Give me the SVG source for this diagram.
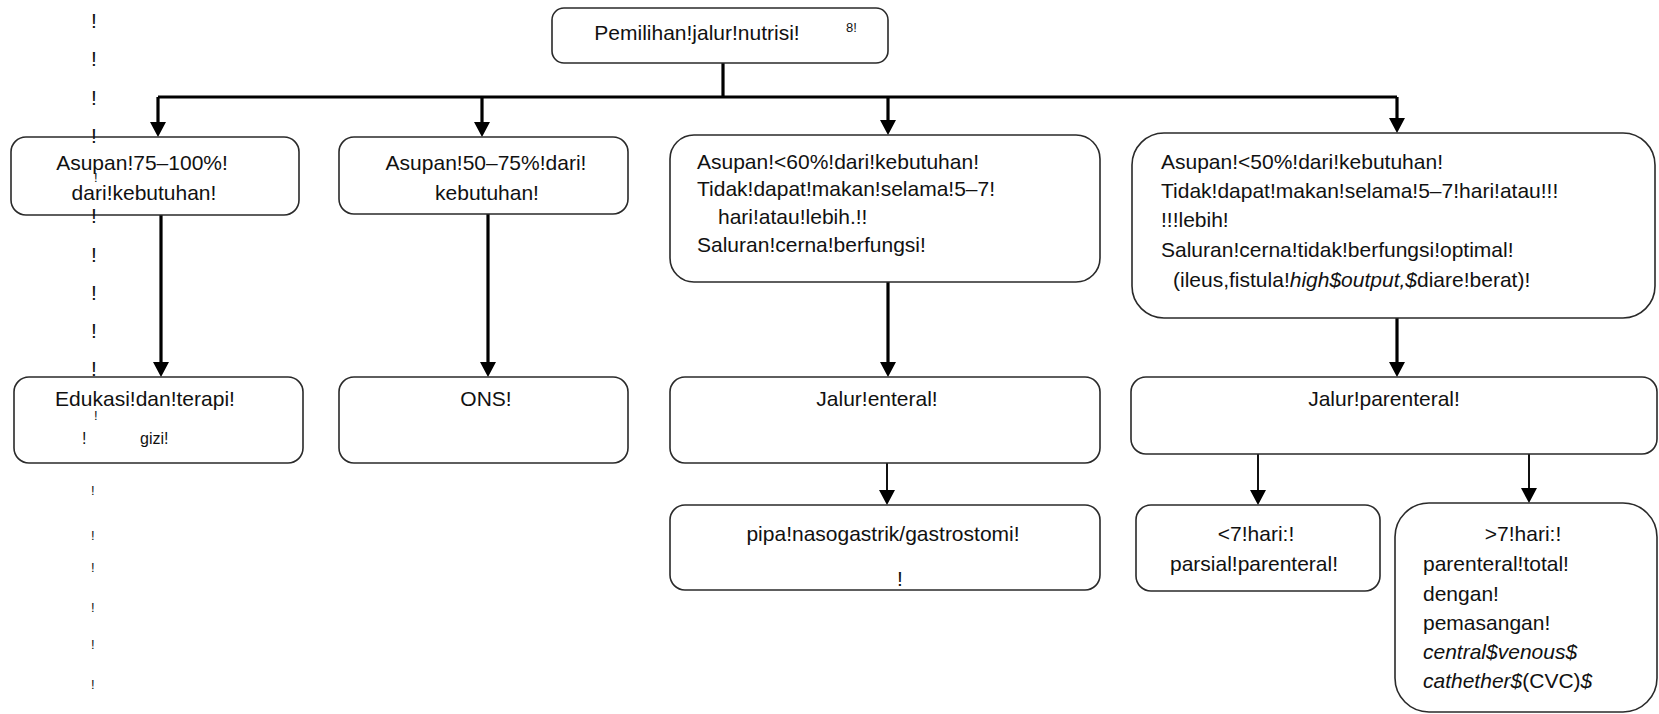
<svg xmlns="http://www.w3.org/2000/svg" width="1659" height="714" viewBox="0 0 1659 714">
<style>
.box{fill:#fff;stroke:#2a2a2a;stroke-width:1.6}
.t{font-family:"Liberation Sans",Arial,sans-serif;font-size:21px;fill:#111}
.c{text-anchor:middle}
.i{font-style:italic}
.s{font-family:"Liberation Sans",Arial,sans-serif;font-size:16px;fill:#111}
.xs{font-family:"Liberation Sans",Arial,sans-serif;font-size:13px;fill:#111}
.thick{fill:none;stroke:#000;stroke-width:3.2}
.thin{fill:none;stroke:#111;stroke-width:2}
</style>
<defs>
<marker id="ah" viewBox="0 0 15 16" refX="11" refY="8" markerWidth="15" markerHeight="16" markerUnits="userSpaceOnUse" orient="auto">
<path d="M0,0 L15,8 L0,16 z" fill="#000"/>
</marker>
</defs>
<rect width="1659" height="714" fill="#fff"/>

<g id="connectors">
<path class="thick" d="M723,63 V97"/>
<path class="thick" d="M158,97 H1397"/>
<path class="thick" d="M158,97 V133" marker-end="url(#ah)"/>
<path class="thick" d="M482,97 V133" marker-end="url(#ah)"/>
<path class="thick" d="M888,97 V131" marker-end="url(#ah)"/>
<path class="thick" d="M1397,97 V129" marker-end="url(#ah)"/>
<path class="thick" d="M161,215 V373" marker-end="url(#ah)"/>
<path class="thick" d="M488,214 V373" marker-end="url(#ah)"/>
<path class="thick" d="M888,282 V373" marker-end="url(#ah)"/>
<path class="thick" d="M1397,318 V373" marker-end="url(#ah)"/>
<path class="thin" d="M887,463 V501" marker-end="url(#ah)"/>
<path class="thin" d="M1258,454 V501" marker-end="url(#ah)"/>
<path class="thin" d="M1529,454 V499" marker-end="url(#ah)"/>
</g>

<g id="n-root">
<rect class="box" x="552" y="8" width="336" height="55" rx="12"/>
<text class="t c" x="697" y="40">Pemilihan!jalur!nutrisi!</text>
<text class="xs" x="846" y="32">8!</text>
</g>

<g id="n-a1">
<rect class="box" x="11" y="137" width="288" height="78" rx="15"/>
<text class="t c" x="142" y="170">Asupan!75–100%!</text>
<text class="t c" x="144" y="200">dari!kebutuhan!</text>
</g>

<g id="n-a2">
<rect class="box" x="339" y="137" width="289" height="77" rx="15"/>
<text class="t c" x="486" y="170">Asupan!50–75%!dari!</text>
<text class="t c" x="487" y="200">kebutuhan!</text>
</g>

<g id="n-a3">
<rect class="box" x="670" y="135" width="430" height="147" rx="24"/>
<text class="t" x="697" y="169">Asupan!&lt;60%!dari!kebutuhan!</text>
<text class="t" x="697" y="196">Tidak!dapat!makan!selama!5–7!</text>
<text class="t" x="718" y="224">hari!atau!lebih.!!</text>
<text class="t" x="697" y="252">Saluran!cerna!berfungsi!</text>
</g>

<g id="n-a4">
<rect class="box" x="1132" y="133" width="523" height="185" rx="32"/>
<text class="t" x="1161" y="169">Asupan!&lt;50%!dari!kebutuhan!</text>
<text class="t" x="1161" y="198">Tidak!dapat!makan!selama!5–7!hari!atau!!!</text>
<text class="t" x="1161" y="227">!!!lebih!</text>
<text class="t" x="1161" y="257">Saluran!cerna!tidak!berfungsi!optimal!</text>
<text class="t" x="1173" y="287">(ileus,fistula!<tspan class="i">high$output,$</tspan>diare!berat)!</text>
</g>

<g id="n-b1">
<rect class="box" x="14" y="377" width="289" height="86" rx="15"/>
<text class="t c" x="145" y="406">Edukasi!dan!terapi!</text>
<text class="s" x="82" y="444">!</text>
<text class="s" x="140" y="444">gizi!</text>
</g>

<g id="n-b2">
<rect class="box" x="339" y="377" width="289" height="86" rx="15"/>
<text class="t c" x="486" y="406">ONS!</text>
</g>

<g id="n-b3">
<rect class="box" x="670" y="377" width="430" height="86" rx="15"/>
<text class="t c" x="877" y="406">Jalur!enteral!</text>
</g>

<g id="n-b4">
<rect class="box" x="1131" y="377" width="526" height="77" rx="15"/>
<text class="t c" x="1384" y="406">Jalur!parenteral!</text>
</g>

<g id="n-c1">
<rect class="box" x="670" y="505" width="430" height="85" rx="15"/>
<text class="t c" x="883" y="541">pipa!nasogastrik/gastrostomi!</text>
<text class="t" x="897" y="586">!</text>
</g>

<g id="n-c2">
<rect class="box" x="1136" y="505" width="244" height="86" rx="15"/>
<text class="t c" x="1256" y="541">&lt;7!hari:!</text>
<text class="t c" x="1254" y="571">parsial!parenteral!</text>
</g>

<g id="n-c3">
<rect class="box" x="1395" y="503" width="262" height="209" rx="34"/>
<text class="t c" x="1523" y="541">&gt;7!hari:!</text>
<text class="t" x="1423" y="571">parenteral!total!</text>
<text class="t" x="1423" y="601">dengan!</text>
<text class="t" x="1423" y="630">pemasangan!</text>
<text class="t i" x="1423" y="659">central$venous$</text>
<text class="t" x="1423" y="688"><tspan class="i">cathether$</tspan>(CVC)<tspan class="i">$</tspan></text>
</g>

<g id="marks">
<text class="t" x="91" y="28">!</text>
<text class="t" x="91" y="66">!</text>
<text class="t" x="91" y="105">!</text>
<text class="t" x="91" y="143">!</text>
<text class="xs" x="94" y="182">!</text>
<text class="t" x="91" y="223">!</text>
<text class="t" x="91" y="262">!</text>
<text class="t" x="91" y="300">!</text>
<text class="t" x="91" y="338">!</text>
<text class="t" x="91" y="376">!</text>
<text class="xs" x="94" y="420">!</text>
<text class="xs" x="91" y="495">!</text>
<text class="xs" x="91" y="540">!</text>
<text class="xs" x="91" y="572">!</text>
<text class="xs" x="91" y="612">!</text>
<text class="xs" x="91" y="649">!</text>
<text class="xs" x="91" y="689">!</text>
</g>
</svg>
